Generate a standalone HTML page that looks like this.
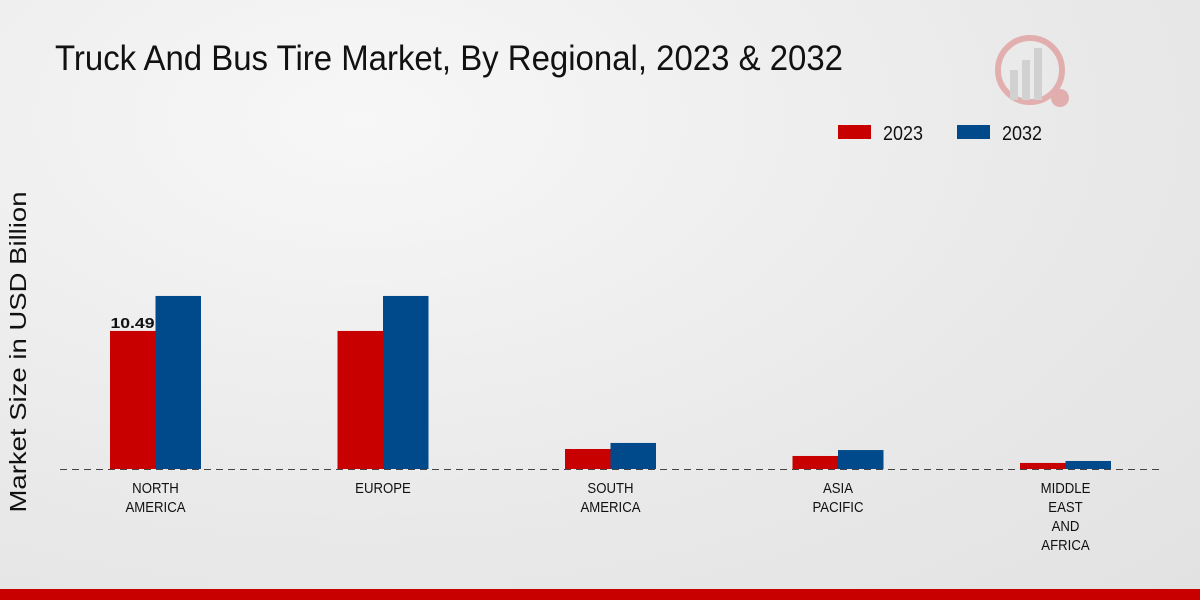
<!DOCTYPE html>
<html><head><meta charset="utf-8"><style>
html,body{margin:0;padding:0;width:1200px;height:600px;overflow:hidden;font-family:"Liberation Sans",sans-serif;}
body{background:radial-gradient(ellipse at 30% 20%,#f7f7f7 0%,#e9e9e9 60%,#e2e2e2 100%);}
</style></head><body>
<svg width="1200" height="600" xmlns="http://www.w3.org/2000/svg" id="chart">
<text x="55" y="70" font-size="35" fill="#111" textLength="788" lengthAdjust="spacingAndGlyphs">Truck And Bus Tire Market, By Regional, 2023 &amp; 2032</text>
<g opacity="0.25">
<circle cx="1030" cy="70" r="32" fill="none" stroke="#c00" stroke-width="6"/>
<rect x="1010" y="70" width="8" height="30" fill="#888"/><rect x="1022" y="60" width="8" height="40" fill="#888"/><rect x="1034" y="48" width="8" height="52" fill="#888"/>
<circle cx="1060" cy="98" r="9" fill="#c00"/>
</g>
<g>
<rect x="838" y="125" width="33" height="14" fill="#c80000"/>
<text x="883" y="140" font-size="20" fill="#111" textLength="40" lengthAdjust="spacingAndGlyphs">2023</text>
<rect x="957" y="125" width="33" height="14" fill="#004a8c"/>
<text x="1002" y="140" font-size="20" fill="#111" textLength="40" lengthAdjust="spacingAndGlyphs">2032</text>
</g>
<text transform="translate(26,352) rotate(-90)" font-size="23" fill="#111" text-anchor="middle" textLength="321" lengthAdjust="spacingAndGlyphs">Market Size in USD Billion</text>
<g id="bars"></g>
<line x1="60" y1="469.5" x2="1160" y2="469.5" stroke="#444" stroke-width="1" stroke-dasharray="7,5"/>
<g id="xlabels"></g>
<rect x="0" y="589" width="1200" height="11" fill="#c80000"/>
</svg>
<script>
const categories=[["NORTH","AMERICA"],["EUROPE"],["SOUTH","AMERICA"],["ASIA","PACIFIC"],["MIDDLE","EAST","AND","AFRICA"]];
const values2023=[10.49,10.49,1.52,0.99,0.46];
const values2032=[13.15,13.15,1.98,1.44,0.61];
const ns="http://www.w3.org/2000/svg";
const baseY=469, pxPerUnit=13.16;
const y=v=>baseY-v*pxPerUnit;
const xc=i=>155.5+i*227.5;
const bars=document.getElementById('bars'), xl=document.getElementById('xlabels');
categories.forEach((c,i)=>{
  [[values2023,'#c80000',-45.5,'2023'],[values2032,'#004a8c',0,'2032']].forEach(([arr,col,off,s])=>{
    const r=document.createElementNS(ns,'rect');
    r.setAttribute('x',xc(i)+off);r.setAttribute('width',45.5);
    r.setAttribute('y',y(arr[i]));r.setAttribute('height',baseY-y(arr[i]));
    r.setAttribute('fill',col);
    
    
    bars.appendChild(r);
  });
  c.forEach((line,j)=>{
    const t=document.createElementNS(ns,'text');
    t.setAttribute('x',xc(i));t.setAttribute('y',493+j*19);
    t.setAttribute('font-size','15');t.setAttribute('text-anchor','middle');t.setAttribute('fill','#111');
    t.setAttribute('transform',`translate(${xc(i)},0) scale(0.88,1) translate(${-xc(i)},0)`);
    t.textContent=line;
    
    
    xl.appendChild(t);
  });
});
const lab=document.createElementNS(ns,'text');
lab.setAttribute('x',xc(0)-1);lab.setAttribute('y',y(values2023[0])-3);
lab.setAttribute('font-size','15');lab.setAttribute('font-weight','bold');lab.setAttribute('text-anchor','end');lab.setAttribute('fill','#111');
lab.setAttribute('textLength','44');lab.setAttribute('lengthAdjust','spacingAndGlyphs');
lab.textContent=values2023[0].toFixed(2);


bars.appendChild(lab);
</script>
</body></html>
